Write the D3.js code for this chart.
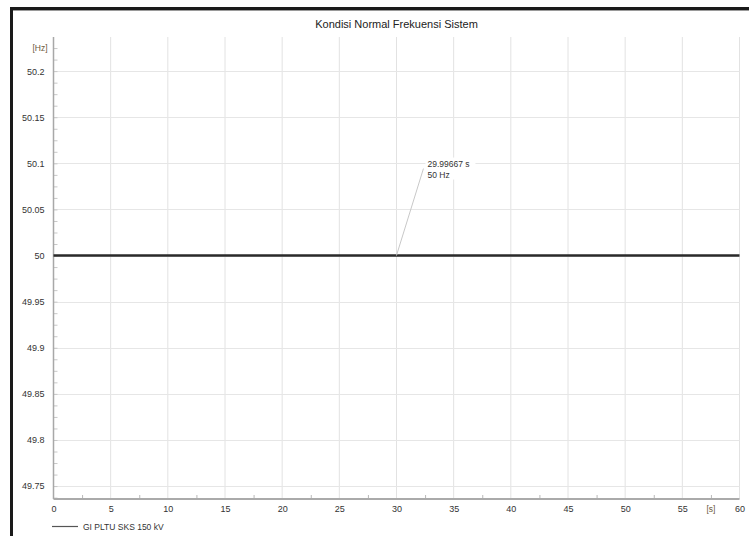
<!DOCTYPE html>
<html>
<head>
<meta charset="utf-8">
<script src="https://cdn.jsdelivr.net/npm/d3@7"></script>
<style>
  html, body { margin: 0; padding: 0; background: #fff; }
  svg { display: block; font-family: "Liberation Sans", Arial, sans-serif; }
</style>
</head>
<body>
<svg id="chart" width="749" height="536"></svg>
<script>
// Frequency trace of the bus over the simulation window
const seriesName = "GI PLTU SKS 150 kV";
const timeSec = [0, 30, 60];
const freqHz = [50, 50, 50];

const xTicks = [0, 5, 10, 15, 20, 25, 30, 35, 40, 45, 50, 55, 60];
const yTicks = [49.75, 49.8, 49.85, 49.9, 49.95, 50, 50.05, 50.1, 50.15, 50.2];
const yTickLabels = ["49.75", "49.8", "49.85", "49.9", "49.95", "50", "50.05", "50.1", "50.15", "50.2"];

// Cursor readout
const markerTime = 29.99667;
const markerFreq = 50;

const title = "Kondisi Normal Frekuensi Sistem";

const svg = d3.select("#chart");
const plotLeft = 53.5, plotRight = 739.5, plotTop = 37, plotBottom = 499;

const x = d3.scaleLinear().domain([0, 60]).range([plotLeft, plotRight]);
const y = d3.scaleLinear().domain([49.736, 50.237]).range([plotBottom, plotTop]);

// Frame edges (top and left)
svg.append("rect").attr("x", 10).attr("y", 7).attr("width", 739).attr("height", 3).attr("fill", "#1a1a1a");
svg.append("rect").attr("x", 10).attr("y", 10).attr("width", 739).attr("height", 1).attr("fill", "#9a9a9a");
svg.append("rect").attr("x", 10).attr("y", 7).attr("width", 3).attr("height", 529).attr("fill", "#1a1a1a");

// Title
svg.append("text").attr("x", (plotLeft + plotRight) / 2).attr("y", 28)
  .attr("text-anchor", "middle").attr("font-size", 11).attr("fill", "#222").text(title);

// Grid
const grid = svg.append("g");
grid.selectAll("line.v").data(xTicks.slice(1)).join("line")
  .attr("x1", d => x(d)).attr("x2", d => x(d)).attr("y1", plotTop).attr("y2", plotBottom)
  .attr("stroke", "#e2e2e2").attr("stroke-width", 1);
grid.selectAll("line.h").data(yTicks).join("line")
  .attr("x1", plotLeft).attr("x2", plotRight)
  .attr("y1", d => Math.round(y(d)) + 0.5).attr("y2", d => Math.round(y(d)) + 0.5)
  .attr("stroke", "#e6e6e6").attr("stroke-width", 1);

// Y axis with inner minor ticks
const yMinor = d3.range(49.75 - 0.0125, 50.237, 0.0125).filter(v => v > 49.736);
svg.append("g").attr("transform", `translate(${plotLeft},0)`)
  .call(d3.axisRight(y).tickValues(yMinor).tickSize(4).tickFormat(""))
  .call(g => g.select(".domain").remove())
  .call(g => g.selectAll("line").attr("stroke", "#c8c8c8"));
svg.append("line").attr("x1", plotLeft).attr("x2", plotLeft).attr("y1", plotTop).attr("y2", plotBottom)
  .attr("stroke", "#a8a8a8").attr("stroke-width", 1.5);

svg.append("g").attr("transform", `translate(${plotLeft - 6},0)`)
  .call(d3.axisLeft(y).tickValues(yTicks).tickSize(0).tickFormat((d, i) => yTickLabels[i]))
  .call(g => g.select(".domain").remove())
  .call(g => g.selectAll("text").attr("font-size", 9).attr("fill", "#333")
    .attr("font-family", "Liberation Sans, Arial, sans-serif").attr("dx", 0));

svg.append("text").attr("x", plotLeft - 6).attr("y", 51).attr("text-anchor", "end")
  .attr("font-size", 8.5).attr("fill", "#6e5a3c").text("[Hz]");

// X axis
const xMinor = d3.range(2.5, 60, 5);
svg.append("g").attr("transform", `translate(0,${plotBottom})`)
  .call(d3.axisTop(x).tickValues(xMinor).tickSize(4).tickFormat(""))
  .call(g => g.select(".domain").remove())
  .call(g => g.selectAll("line").attr("stroke", "#b8b8b8"));
svg.append("line").attr("x1", plotLeft).attr("x2", plotRight).attr("y1", plotBottom).attr("y2", plotBottom)
  .attr("stroke", "#aaaaaa").attr("stroke-width", 2);

svg.append("g").attr("transform", `translate(0,${plotBottom + 4})`)
  .call(d3.axisBottom(x).tickValues(xTicks).tickSize(0).tickFormat(d3.format("d")))
  .call(g => g.select(".domain").remove())
  .call(g => g.selectAll("text").attr("font-size", 9).attr("fill", "#333")
    .attr("font-family", "Liberation Sans, Arial, sans-serif"));

svg.append("text").attr("x", x(57.5)).attr("y", plotBottom + 12.5).attr("text-anchor", "middle")
  .attr("font-size", 8.5).attr("fill", "#6e5a3c").text("[s]");

// Series line
const line = d3.line().x(d => x(d[0])).y(d => y(d[1]));
svg.append("path").datum(timeSec.map((t, i) => [t, freqHz[i]]))
  .attr("d", line).attr("fill", "none").attr("stroke", "#2a2a2a").attr("stroke-width", 2.4);

// Cursor annotation
const mx = x(markerTime), my = y(markerFreq);
const lx = mx + 27, ly = my - 87;
svg.append("line").attr("x1", mx).attr("y1", my).attr("x2", lx).attr("y2", ly)
  .attr("stroke", "#c8c8c8").attr("stroke-width", 1);
svg.append("rect").attr("x", lx + 2).attr("y", ly - 11).attr("width", 50).attr("height", 22).attr("fill", "#fff");
svg.append("text").attr("x", lx + 4).attr("y", ly - 2).attr("font-size", 8.5).attr("fill", "#333")
  .text(`${markerTime} s`);
svg.append("text").attr("x", lx + 4).attr("y", ly + 9).attr("font-size", 8.5).attr("fill", "#333")
  .text(`${markerFreq} Hz`);

// Legend
svg.append("line").attr("x1", 52).attr("x2", 78).attr("y1", 526.5).attr("y2", 526.5)
  .attr("stroke", "#555").attr("stroke-width", 1.2);
svg.append("text").attr("x", 83).attr("y", 529.5).attr("font-size", 8.5).attr("fill", "#333").text(seriesName);
</script>
</body>
</html>
